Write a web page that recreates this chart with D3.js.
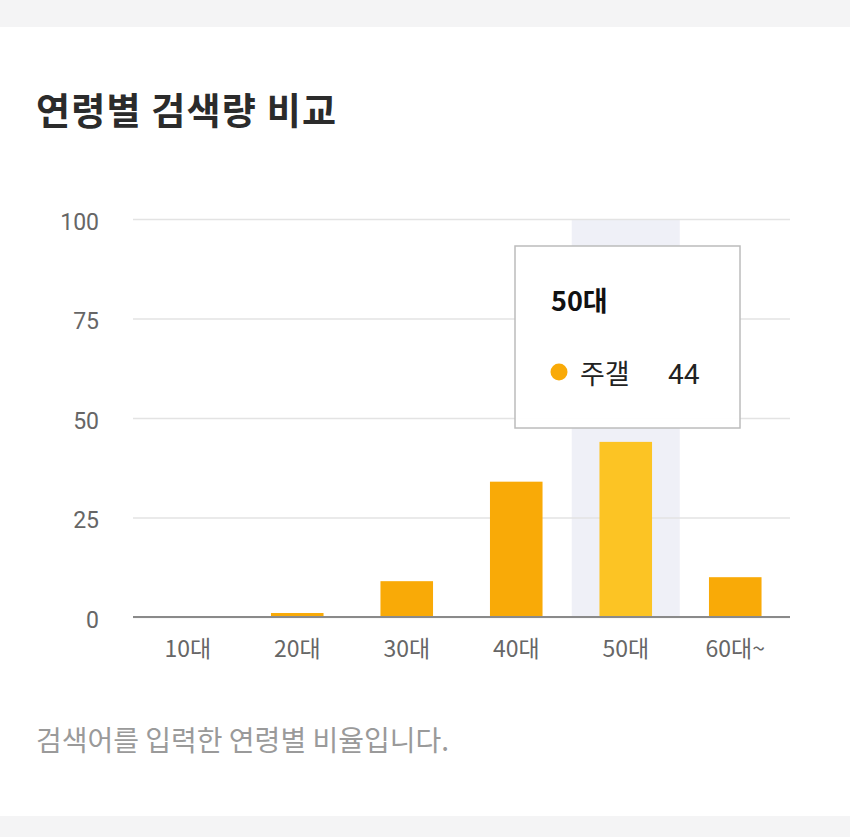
<!DOCTYPE html>
<html><head><meta charset="utf-8">
<script src="https://cdn.jsdelivr.net/npm/d3@7"></script>
<style>
html,body{margin:0;padding:0;background:#fff;}
svg{display:block;font-family:"Noto Sans CJK KR","Noto Sans",sans-serif;}
</style></head>
<body><svg id="c" width="850" height="837"></svg>
<script>
const categories = ["10대","20대","30대","40대","50대","60대~"];
const values = [0, 1, 9, 34, 44, 10];
const yTicks = [0, 25, 50, 75, 100];
const seriesName = "주갤";
const highlighted = "50대";

const svg = d3.select("#c");
svg.append("rect").attr("x",0).attr("y",0).attr("width",850).attr("height",27).attr("fill","#f4f4f5");
svg.append("rect").attr("x",0).attr("y",816).attr("width",850).attr("height",21).attr("fill","#f4f4f5");

svg.append("text").attr("x",36).attr("y",125).attr("font-size",37).attr("font-weight",700)
  .attr("letter-spacing",1.2).attr("fill","#2b2b2b").text("연령별 검색량 비교");

const x = d3.scaleBand().domain(categories).range([133,790]).paddingInner(0.52).paddingOuter(0.26);
const xb = d3.scaleBand().domain(categories).range([133,790]).padding(0);
const y = d3.scaleLinear().domain([0,100]).range([617,219]);

// highlight band
const hx = xb(highlighted);
svg.append("rect").attr("x",hx+(xb.bandwidth()-108)/2).attr("y",y(100)).attr("width",108)
  .attr("height",y(0)-y(100)).attr("fill","#eff0f7");

// grid
const yAxis = d3.axisLeft(y).tickValues(yTicks).tickSize(-(790-133)).tickPadding(34);
const ga = svg.append("g").attr("transform","translate(133,0)").call(yAxis);
ga.select(".domain").remove();
ga.selectAll(".tick line").attr("stroke","#e3e3e3").attr("stroke-width",1.5);
ga.selectAll(".tick text").attr("font-size",23).attr("fill","#666").attr("font-family","Roboto,'Noto Sans',sans-serif").attr("dy","0.45em");

// bars
svg.selectAll("rect.bar").data(categories).enter().append("rect").attr("class","bar")
  .attr("x",d=>x(d)).attr("width",x.bandwidth())
  .attr("y",(d,i)=>y(values[i])).attr("height",(d,i)=>y(0)-y(values[i]))
  .attr("fill",d=>d===highlighted?"#fcc424":"#f9aa07");

// x axis
const xAxis = d3.axisBottom(xb).tickSize(0).tickPadding(24);
const gx = svg.append("g").attr("transform","translate(0,617)").call(xAxis);
gx.select(".domain").attr("stroke","#8a8a8a").attr("stroke-width",2).attr("d","M133,0H790");
gx.selectAll(".tick text").attr("font-size",23).attr("fill","#666").attr("font-family","'Noto Sans CJK KR',sans-serif");

// tooltip
const hi = categories.indexOf(highlighted);
const tt = svg.append("g");
tt.append("rect").attr("x",515).attr("y",246).attr("width",225).attr("height",182)
  .attr("fill","rgba(255,255,255,0.97)").attr("stroke","#bcbcbc").attr("stroke-width",1.5);
tt.append("text").attr("x",551).attr("y",311).attr("font-size",27).attr("font-weight",700).attr("fill","#111").text(highlighted);
tt.append("circle").attr("cx",559).attr("cy",372).attr("r",8.5).attr("fill","#f9aa07");
tt.append("text").attr("x",580).attr("y",384).attr("font-size",27).attr("fill","#222").text(seriesName);
tt.append("text").attr("x",668).attr("y",384).attr("font-size",28).attr("fill","#222").attr("font-family","Roboto,sans-serif").text(values[hi]);

svg.append("text").attr("x",36).attr("y",751).attr("font-size",28).attr("fill","#9a9a9a").text("검색어를 입력한 연령별 비율입니다.");
</script></body></html>
